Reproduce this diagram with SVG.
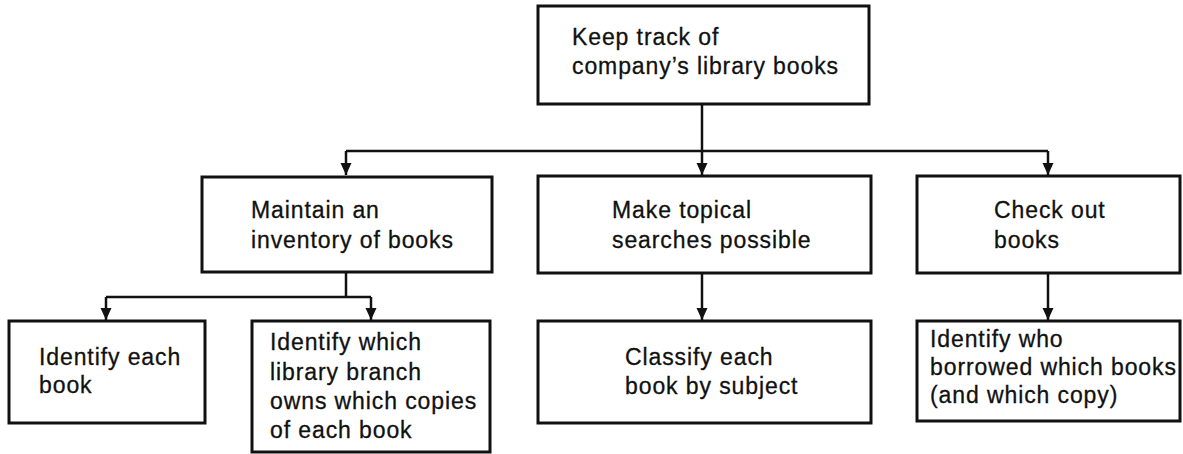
<svg xmlns="http://www.w3.org/2000/svg" width="1183" height="454" viewBox="0 0 1183 454">
<style>
.box{fill:#fff;stroke:#111;stroke-width:3}
.t{font-family:"Liberation Sans",Arial,sans-serif;font-size:23px;letter-spacing:0.9px;fill:#111;stroke:#111;stroke-width:0.3}
.c{fill:none;stroke:#111;stroke-width:2.5}
</style>
<defs>
<marker id="ah" viewBox="0 0 12 14" refX="12" refY="7" markerWidth="12" markerHeight="14" markerUnits="userSpaceOnUse" orient="auto">
<path d="M0,1.5 L12,7 L0,12.5 Z" fill="#111"/>
</marker>
</defs>
<rect width="1183" height="454" fill="#fff"/>
<g id="connectors">
<path class="c" d="M702,104 V151"/>
<path class="c" d="M346,151 H1048"/>
<path class="c" d="M346,151 V175" marker-end="url(#ah)"/>
<path class="c" d="M702,151 V175" marker-end="url(#ah)"/>
<path class="c" d="M1048,151 V175" marker-end="url(#ah)"/>
<path class="c" d="M346,272 V297"/>
<path class="c" d="M106,297 H371"/>
<path class="c" d="M106,297 V320" marker-end="url(#ah)"/>
<path class="c" d="M371,297 V320" marker-end="url(#ah)"/>
<path class="c" d="M702,273 V320" marker-end="url(#ah)"/>
<path class="c" d="M1048,273 V320" marker-end="url(#ah)"/>
</g>
<g id="root">
<rect class="box" x="538" y="6" width="331" height="98"/>
<text class="t" x="572" y="45">Keep track of</text>
<text class="t" x="572" y="74">company’s library books</text>
</g>
<g id="inventory">
<rect class="box" x="202" y="177" width="290" height="95"/>
<text class="t" x="251" y="218">Maintain an</text>
<text class="t" x="251" y="248">inventory of books</text>
</g>
<g id="topical">
<rect class="box" x="538" y="176" width="333" height="97"/>
<text class="t" x="612" y="218">Make topical</text>
<text class="t" x="612" y="248">searches possible</text>
</g>
<g id="checkout">
<rect class="box" x="917" y="176" width="263" height="97"/>
<text class="t" x="994" y="218">Check out</text>
<text class="t" x="994" y="248">books</text>
</g>
<g id="identify-each">
<rect class="box" x="9" y="321" width="196" height="102"/>
<text class="t" x="39" y="365">Identify each</text>
<text class="t" x="39" y="393">book</text>
</g>
<g id="identify-branch">
<rect class="box" x="252" y="321" width="238" height="131"/>
<text class="t" x="270" y="350">Identify which</text>
<text class="t" x="270" y="380">library branch</text>
<text class="t" x="270" y="409">owns which copies</text>
<text class="t" x="270" y="438">of each book</text>
</g>
<g id="classify">
<rect class="box" x="538" y="321" width="333" height="102"/>
<text class="t" x="625" y="365">Classify each</text>
<text class="t" x="625" y="394">book by subject</text>
</g>
<g id="borrowed">
<rect class="box" x="917" y="321" width="263" height="100"/>
<text class="t" x="930" y="347">Identify who</text>
<text class="t" x="930" y="375">borrowed which books</text>
<text class="t" x="930" y="403">(and which copy)</text>
</g>
</svg>
